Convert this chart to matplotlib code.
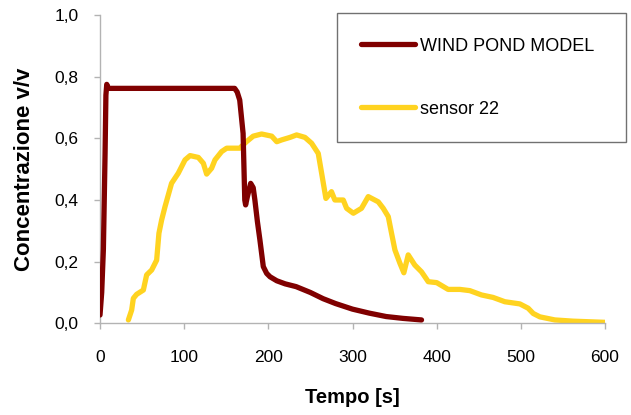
import matplotlib
matplotlib.use("Agg")
import matplotlib.pyplot as plt
from matplotlib.ticker import FuncFormatter

plt.rcParams['font.family'] = ['Liberation Sans', 'DejaVu Sans']

# Model output: time [s] and concentration
model_t = [0, 2, 4, 6, 7, 8, 10, 20, 60, 100, 140, 160, 163, 166, 170, 172, 173, 175,
           179, 182, 184, 187, 190, 194, 198, 202, 210, 220, 233, 250, 265, 280, 300,
           320, 340, 360, 382]
model_c = [0.027, 0.10, 0.24, 0.55, 0.74, 0.775, 0.762, 0.762, 0.762, 0.762, 0.762, 0.762,
           0.750, 0.724, 0.616, 0.40, 0.384, 0.41, 0.454, 0.44, 0.40, 0.33, 0.27, 0.184,
           0.162, 0.151, 0.138, 0.128, 0.119, 0.100, 0.080, 0.064, 0.046, 0.033, 0.022,
           0.016, 0.011]

# Measured concentration at sensor 22
sensor_t = [33.7, 37.6, 39.6, 43.5, 51.5, 55.4, 61.4, 67.3, 70, 73.2, 77.2, 85, 93, 101,
            107, 116.8, 122.8, 126.7, 132.6, 136.6, 144.5, 150.5, 166, 174, 182, 192, 204,
            210, 216, 225.7, 233.6, 243.5, 251.4, 259.3, 263.3, 268.4, 275, 279, 289, 293,
            301, 310.7, 318.7, 330.6, 336.5, 342.5, 346.4, 350.4, 356.3, 361, 366.2, 374,
            382, 390, 400, 413.6, 427.6, 439.4, 453.3, 467, 481, 498.8, 508.7, 514.7, 522.6,
            540.4, 562, 582, 602]
sensor_c = [0.011, 0.043, 0.081, 0.094, 0.108, 0.157, 0.173, 0.205, 0.292, 0.335, 0.378,
            0.454, 0.487, 0.530, 0.544, 0.538, 0.519, 0.484, 0.503, 0.530, 0.557, 0.568,
            0.568, 0.589, 0.607, 0.614, 0.607, 0.589, 0.595, 0.603, 0.611, 0.603, 0.584,
            0.551, 0.487, 0.405, 0.427, 0.400, 0.400, 0.373, 0.357, 0.373, 0.411, 0.394,
            0.373, 0.346, 0.292, 0.238, 0.195, 0.164, 0.222, 0.189, 0.167, 0.135, 0.132,
            0.110, 0.110, 0.106, 0.092, 0.084, 0.070, 0.063, 0.049, 0.032, 0.021, 0.011,
            0.007, 0.005, 0.003]

x_ticks = [0, 100, 200, 300, 400, 500, 600]
y_ticks = [0.0, 0.2, 0.4, 0.6, 0.8, 1.0]

W, H = 631, 415
fig = plt.figure(figsize=(W / 100, H / 100), dpi=100)
ax = fig.add_axes([0.1585, 0.2209, 0.8003, 0.743])

l1, = ax.plot(model_t, model_c, color='#800000', lw=3.8, solid_capstyle='round',
              solid_joinstyle='round', label='WIND POND MODEL', zorder=3)
l2, = ax.plot(sensor_t, sensor_c, color='#FFD320', lw=3.8, solid_capstyle='round',
              solid_joinstyle='round', label='sensor 22', zorder=2)

ax.set_xlim(0, 600)
ax.set_ylim(0, 1.0)
ax.set_xticks(x_ticks)
ax.set_yticks(y_ticks)
ax.yaxis.set_major_formatter(FuncFormatter(lambda v, p: f"{v:.1f}".replace('.', ',')))
ax.xaxis.set_major_formatter(FuncFormatter(lambda v, p: f"{int(v)}"))

for s in ['top', 'right']:
    ax.spines[s].set_visible(False)
for s in ['left', 'bottom']:
    ax.spines[s].set_color('#b3b3b3')
    ax.spines[s].set_linewidth(1.0)
ax.tick_params(axis='both', direction='out', color='#b3b3b3', length=4.5, width=1.0,
               labelsize=12.5, labelcolor='black')
ax.tick_params(axis='x', pad=15)
ax.tick_params(axis='y', pad=11)

ax.set_xlabel('Tempo [s]', fontsize=14.5, fontweight='bold', labelpad=16)
ax.set_ylabel('Concentrazione v/v', fontsize=16, fontweight='bold')
ax.yaxis.set_label_coords(-0.128, 0.5)

# Legend frame spans from x=336.7 to 625.7 px and y=13.3 to 134.3 px (from top)
leg = fig.legend(handles=[l1, l2], loc='upper left',
                 bbox_to_anchor=(336.7 / W, 1 - 134.3 / H, 289 / W, 121 / H),
                 mode='expand', fontsize=13, frameon=True, fancybox=False,
                 handlelength=3.0, handletextpad=0.25, labelspacing=2.55,
                 borderpad=1.35, borderaxespad=0)
leg.get_frame().set_edgecolor('#4d4d4d')
leg.get_frame().set_linewidth(1.0)

fig.savefig('out.png', dpi=100)
